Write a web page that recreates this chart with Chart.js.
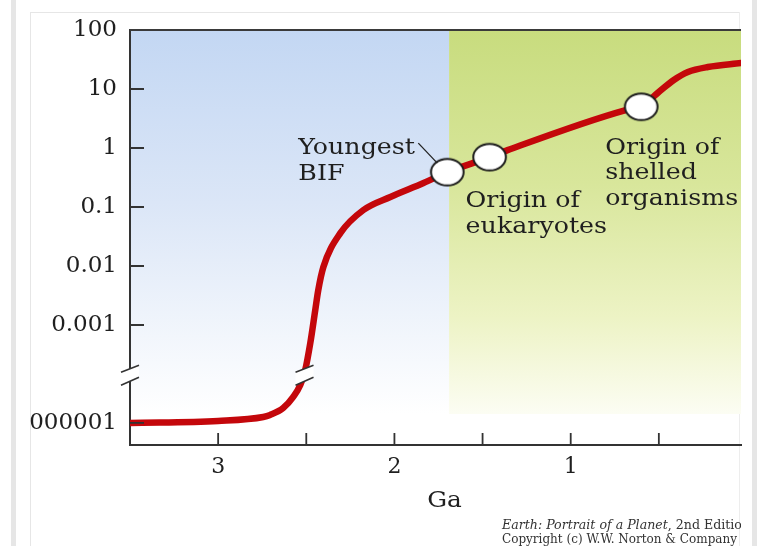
<!DOCTYPE html>
<html>
<head>
<meta charset="utf-8">
<script src="https://cdn.jsdelivr.net/npm/chart.js@4"></script>
<style>
html,body{margin:0;padding:0;background:#fff;}
#wrap{position:relative;width:760px;height:546px;overflow:hidden;background:#fff;}
.f{position:absolute;}
canvas{position:absolute;left:0;top:0;}
</style>
</head>
<body>
<div id="wrap">
  <div class="f" style="left:11px;top:0;width:5px;height:546px;background:#e6e6e6"></div>
  <div class="f" style="left:30px;top:12px;width:1px;height:534px;background:#e6e6e6"></div>
  <div class="f" style="left:30px;top:12px;width:709px;height:1px;background:#e6e6e6"></div>
  <div class="f" style="left:739px;top:12px;width:1px;height:534px;background:#ededed"></div>
  <div class="f" style="left:752px;top:0;width:5px;height:546px;background:#e6e6e6"></div>
  <canvas id="c" width="760" height="546"></canvas>
</div>
<script>
// ---------------- data ----------------
const ageGa = [3.5, 3.0, 2.744, 2.705, 2.631, 2.574, 2.534, 2.506, 2.477, 2.449, 2.432, 2.403,
               2.307, 2.176, 2.023, 1.835, 1.699, 1.46, 1.358, 0.688, 0.602, 0.506, 0.415, 0.335, 0.222, 0.034];
const oxygenLevel = [1.0e-6, 1.23e-6, 1.86e-6, 2.3e-6, 4.7e-6, 1.5e-5, 5.1e-5, 1.73e-4, 5.0e-4, 1.8e-3, 3.9e-3, 9.6e-3,
                     0.036, 0.089, 0.148, 0.255, 0.39, 0.70, 0.92, 4.4, 5.0, 8.6, 14.2, 19.4, 23.6, 27.6];

const eventGa = [1.70, 1.46, 0.60];
const eventLevel = [0.39, 0.70, 5.0];
const eventLabelLines = [["Youngest", "BIF"], ["Origin of", "eukaryotes"], ["Origin of", "shelled", "organisms"]];

const yTickValues = [100, 10, 1, 0.1, 0.01, 0.001, 0.000001];
const yTickLabels = ["100", "10", "1", "0.1", "0.01", "0.001", "0.000001"];
const xTickLabelValues = [3, 2, 1];
const xTickMarkValues = [3, 2.5, 2, 1.5, 1, 0.5];
const xAxisTitle = "Ga";
const xRange = [0.034, 3.5];
const boundaryGa = 1.69;          // blue / green background boundary
const curveBreakGa = 2.51;        // where the curve carries the break mark
const footnoteItalic = "Earth: Portrait of a Planet";
const footnoteRest = ", 2nd Edition";
const footnote2 = "Copyright (c) W.W. Norton & Company";

// ---------------- broken log axis transform ----------------
const BREAK_LOG = -3.85, BELOW_K = 0.377;
function toPos(v) {
  const L = Math.log10(v);
  return L >= BREAK_LOG ? L : BREAK_LOG + (L - BREAK_LOG) * BELOW_K;
}
const Y_MIN = -5.034, Y_MAX = 2;

const FONT = "'DejaVu Serif', 'Liberation Serif', serif";
const INK = '#1f1f1f';

function ellipseImg() {
  const c = document.createElement('canvas');
  c.width = 37; c.height = 31;
  const g = c.getContext('2d');
  g.beginPath();
  g.ellipse(18.5, 15.5, 16.3, 13.3, 0, 0, Math.PI * 2);
  g.fillStyle = '#ffffff'; g.fill();
  g.lineWidth = 2; g.strokeStyle = '#1c1c1c'; g.stroke();
  return c;
}

function stretchText(ctx, txt, x, y, sx) {
  ctx.save(); ctx.translate(x, y); ctx.scale(sx, 1); ctx.fillText(txt, 0, 0); ctx.restore();
}

function breakMark(ctx, cx, cy) {
  ctx.save();
  ctx.fillStyle = '#ffffff';
  ctx.beginPath();
  ctx.moveTo(cx - 9, cy - 3); ctx.lineTo(cx + 9, cy - 10);
  ctx.lineTo(cx + 9, cy + 2); ctx.lineTo(cx - 9, cy + 10);
  ctx.closePath(); ctx.fill();
  ctx.strokeStyle = '#333'; ctx.lineWidth = 1.6;
  ctx.beginPath();
  ctx.moveTo(cx - 9, cy - 3); ctx.lineTo(cx + 9, cy - 10);
  ctx.moveTo(cx - 9, cy + 10); ctx.lineTo(cx + 9, cy + 2);
  ctx.stroke();
  ctx.restore();
}

const decor = {
  id: 'decor',
  beforeDraw(chart) {
    const {ctx, chartArea: a, scales: {x}} = chart;
    ctx.save();
    ctx.beginPath(); ctx.rect(28, 0, chart.width - 28, chart.height); ctx.clip();
    const xb = x.getPixelForValue(boundaryGa);
    const gEnd = a.bottom - 31;
    let g = ctx.createLinearGradient(0, a.top, 0, gEnd);
    g.addColorStop(0, '#c3d7f3'); g.addColorStop(0.45, '#dbe6f7');
    g.addColorStop(0.8, '#f2f6fc'); g.addColorStop(1, '#ffffff');
    ctx.fillStyle = g; ctx.fillRect(a.left, a.top, xb - a.left, gEnd - a.top);
    g = ctx.createLinearGradient(0, a.top, 0, gEnd);
    g.addColorStop(0, '#c8dc7e'); g.addColorStop(0.4, '#d8e69b');
    g.addColorStop(0.75, '#edf3c5'); g.addColorStop(1, '#fcfdf3');
    ctx.fillStyle = g; ctx.fillRect(xb, a.top, a.right - xb, gEnd - a.top);
  },
  afterDatasetsDraw(chart) {
    const {ctx, chartArea: a, scales: {x, y}} = chart;
    ctx.save();
    ctx.strokeStyle = '#333'; ctx.lineWidth = 1.8;
    ctx.beginPath();
    yTickValues.forEach(v => { const py = y.getPixelForValue(toPos(v)); ctx.moveTo(a.left, py); ctx.lineTo(a.left + 14, py); });
    xTickMarkValues.forEach(v => { const px = x.getPixelForValue(v); ctx.moveTo(px, a.bottom); ctx.lineTo(px, a.bottom - 12); });
    ctx.stroke();
    ctx.lineWidth = 2; ctx.strokeStyle = '#3a3a3a';
    ctx.beginPath(); ctx.moveTo(a.left, a.top); ctx.lineTo(a.right, a.top); ctx.stroke();
    ctx.restore();
    const by = y.getPixelForValue(BREAK_LOG);
    breakMark(ctx, a.left, by);
    breakMark(ctx, x.getPixelForValue(curveBreakGa), by);
  },
  afterDraw(chart) {
    const {ctx, chartArea: a, scales: {x, y}} = chart;
    const pts = eventGa.map((g, i) => ({px: x.getPixelForValue(g), py: y.getPixelForValue(toPos(eventLevel[i]))}));
    ctx.save();
    ctx.fillStyle = INK;
    ctx.font = "23px " + FONT;
    ctx.textAlign = 'left'; ctx.textBaseline = 'alphabetic';
    const offs = [[-149, -18], [-24, 50], [-36, 47]];
    eventLabelLines.forEach((lines, i) => {
      lines.forEach((t, j) => stretchText(ctx, t, pts[i].px + offs[i][0], pts[i].py + offs[i][1] + j * 25.5, 1.1));
    });
    // leader line for Youngest BIF
    ctx.strokeStyle = '#222'; ctx.lineWidth = 1.3;
    ctx.beginPath();
    ctx.moveTo(pts[0].px - 29, pts[0].py - 29);
    ctx.lineTo(pts[0].px - 10, pts[0].py - 9);
    ctx.stroke();
    // axis title
    ctx.textAlign = 'center';
    ctx.save(); ctx.translate((a.left + a.right) / 2 + 9, a.bottom + 62); ctx.scale(1.08, 1);
    ctx.font = "23px " + FONT; ctx.fillText(xAxisTitle, 0, 0); ctx.restore();
    // footnote
    ctx.save();
    ctx.beginPath(); ctx.rect(0, 0, a.right, chart.height); ctx.clip();
    ctx.textAlign = 'left'; ctx.fillStyle = '#333';
    ctx.font = "italic 12.6px " + FONT;
    ctx.fillText(footnoteItalic, 502, 529);
    const w1 = ctx.measureText(footnoteItalic).width;
    ctx.font = "12.6px " + FONT;
    ctx.fillText(footnoteRest, 502 + w1, 529);
    ctx.font = "12px " + FONT;
    ctx.fillText(footnote2, 502, 543);
    ctx.restore();
    ctx.restore();
    ctx.restore(); // matches beforeDraw clip
  }
};

const curveData = ageGa.map((g, i) => ({x: g, y: toPos(oxygenLevel[i])}));
const eventData = eventGa.map((g, i) => ({x: g, y: toPos(eventLevel[i])}));

new Chart(document.getElementById('c'), {
  type: 'line',
  data: {
    datasets: [
      {
        label: 'Events', data: eventData, showLine: false, order: 0,
        pointStyle: ellipseImg(), pointRadius: 16, pointHoverRadius: 16
      },
      {
        label: 'Atmospheric oxygen', data: curveData, order: 1,
        borderColor: '#c4070b', borderWidth: 6.5, pointRadius: 0,
        cubicInterpolationMode: 'monotone', fill: false, borderCapStyle: 'round'
      }
    ]
  },
  options: {
    responsive: false, animation: false,
    layout: {padding: {left: 0, right: 19, top: 30, bottom: 0}},
    plugins: {legend: {display: false}, tooltip: {enabled: false}},
    scales: {
      x: {
        type: 'linear', reverse: true, min: xRange[0], max: xRange[1],
        afterFit(s) { s.height = 101; },
        afterBuildTicks(s) { s.ticks = xTickLabelValues.map(v => ({value: v})); },
        grid: {display: false, drawTicks: false},
        border: {display: true, color: '#333', width: 2},
        ticks: {callback: v => String(v), font: {family: FONT, size: 22}, color: INK, padding: 9, maxRotation: 0, autoSkip: false}
      },
      y: {
        type: 'linear', min: Y_MIN, max: Y_MAX,
        afterFit(s) { s.width = 130; },
        afterBuildTicks(s) { s.ticks = yTickValues.map(v => ({value: toPos(v)})); },
        grid: {display: false, drawTicks: false},
        border: {display: true, color: '#333', width: 2},
        ticks: {callback: (v, i) => yTickLabels[i], font: {family: FONT, size: 23}, color: INK, padding: 13, autoSkip: false}
      }
    }
  },
  plugins: [decor]
});
</script>
</body>
</html>
